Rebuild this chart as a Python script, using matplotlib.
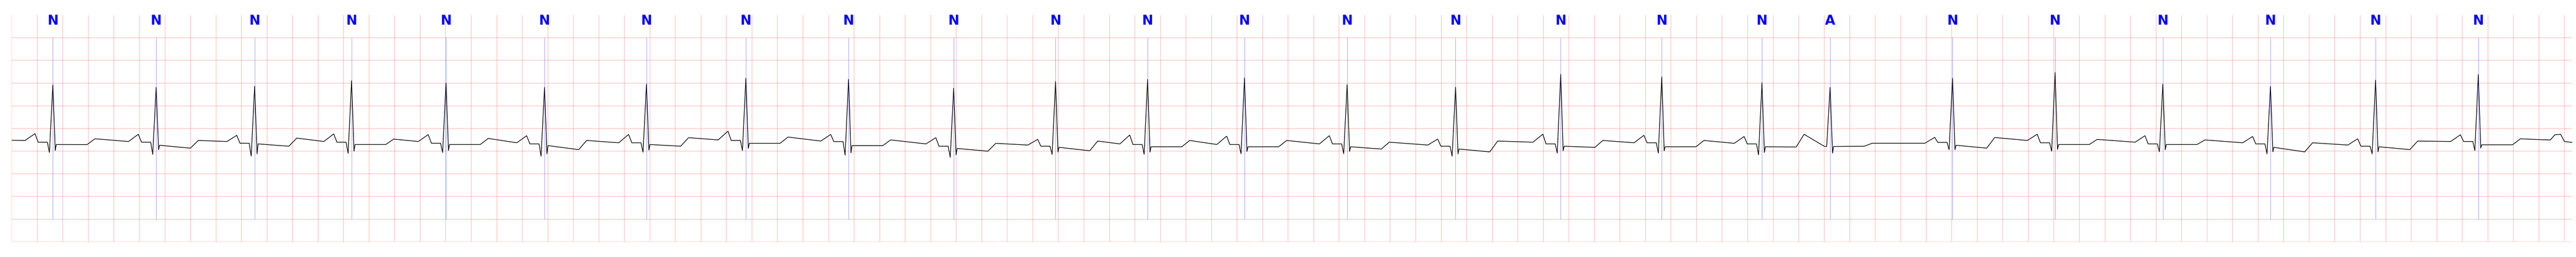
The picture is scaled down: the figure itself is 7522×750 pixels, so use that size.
import numpy as np
import matplotlib
matplotlib.use('Agg')
import matplotlib.pyplot as plt

# beat table: R time (s) and levels (mV) of each wave
beat_t = [0.322, 1.1315, 1.9031, 2.6625, 3.4027, 4.1742, 4.9729, 5.7518, 6.5562, 7.3799,
          8.1781, 8.8991, 9.6584, 10.4626, 11.3121, 12.1358, 12.9276, 13.7127, 14.2466,
          15.2058, 16.0094, 16.8535, 17.6966, 18.5203, 19.325]
labels = ['N'] * 18 + ['A'] + ['N'] * 6
nan = np.nan
pre = [-0.265, -0.288, -0.288, -0.288, -0.288, -0.316, -0.316, -0.253, -0.278, -0.341,
       -0.366, -0.341, -0.354, -0.341, -0.366, -0.303, -0.316, -0.328, nan, -0.326,
       -0.265, -0.303, -0.316, -0.366, -0.288]
p_top = [-0.114, -0.129, -0.152, -0.120, -0.135, -0.160, -0.132, -0.059, -0.132, -0.203,
         -0.241, -0.145, -0.170, -0.160, -0.235, -0.127, -0.152, -0.177, nan, -0.197,
         -0.127, -0.160, -0.177, -0.228, -0.140]
pr = [-0.303, -0.303, -0.326, -0.303, -0.326, -0.341, -0.316, -0.265, -0.290, -0.392,
      -0.392, -0.354, -0.354, -0.341, -0.392, -0.341, -0.316, -0.341, -0.398, -0.308,
      -0.316, -0.341, -0.341, -0.392, -0.288]
q = [-0.530, -0.571, -0.611, -0.550, -0.530, -0.613, -0.525, -0.487, -0.588, -0.636,
     -0.573, -0.568, -0.558, -0.558, -0.611, -0.543, -0.543, -0.581, -0.398, -0.469,
     -0.502, -0.515, -0.560, -0.560, -0.486]
r = [0.961, 0.906, 0.931, 1.052, 1.002, 0.906, 0.976, 1.108, 1.082, 0.888,
     1.037, 1.082, 1.115, 0.964, 0.911, 1.195, 1.140, 1.009, 0.906, 1.108,
     1.233, 0.976, 0.926, 1.067, 1.190]
s = [-0.485, -0.469, -0.560, -0.500, -0.485, -0.560, -0.477, -0.439, -0.538, -0.583,
     -0.522, -0.522, -0.507, -0.507, -0.560, -0.492, -0.492, -0.530, -0.543, -0.469,
     -0.462, -0.469, -0.515, -0.515, -0.432]
st = [-0.354, -0.371, -0.341, -0.354, -0.354, -0.379, -0.354, -0.328, -0.379, -0.441,
      -0.417, -0.404, -0.404, -0.404, -0.454, -0.392, -0.404, -0.404, -0.398, -0.371,
      -0.354, -0.354, -0.417, -0.404, -0.360]
st_end = [-0.356, -0.435, -0.392, -0.354, -0.354, -0.467, -0.392, -0.328, -0.379, -0.502,
          -0.492, -0.404, -0.404, -0.454, -0.517, -0.417, -0.404, -0.409, -0.392, -0.435,
          -0.354, -0.354, -0.517, -0.467, -0.360]
t_top = [-0.228, -0.265, -0.213, -0.235, -0.220, -0.265, -0.203, -0.190, -0.253, -0.328,
         -0.278, -0.265, -0.265, -0.303, -0.278, -0.265, -0.265, -0.129, -0.326, -0.200,
         -0.241, -0.253, -0.316, -0.278, -0.228]
# start of strip and the P wave of the beat cut off at the right edge
lead_t, lead_v = [0.0], [-0.260]
tail_t = [19.790, 19.890, 19.924, 19.970, 20.000, 20.061]
tail_v = [-0.245, -0.253, -0.140, -0.129, -0.288, -0.308]

# wave timing relative to R (s)
off_p = [-0.217, -0.140, -0.115]
off_qrs = [-0.043, -0.027, 0.0, 0.019, 0.027, 0.268, 0.330]

xs, ys = list(lead_t), list(lead_v)
for i, R in enumerate(beat_t):
    if not np.isnan(p_top[i]):
        xs += [R + o for o in off_p]
        ys += [pre[i], p_top[i], pr[i]]
    xs += [R + o for o in off_qrs]
    ys += [pr[i], q[i], r[i], s[i], st[i], st_end[i], t_top[i]]
xs += tail_t
ys += tail_v

fig = plt.figure(figsize=(75.22, 7.5), dpi=100)
ax = fig.add_axes([0.00456, 0.05907, 0.99398, 0.88227])
ax.set_xlim(0, 20.061)
ax.set_ylim(-2.5, 2.5)
ax.set_xticks(np.arange(0, 20.061, 0.2))
ax.set_yticks(np.arange(-2.5, 2.5, 0.5))
ax.grid(True, color='red', alpha=0.28, lw=1.1)
ax.tick_params(length=0, labelbottom=False, labelleft=False)
for sp in ax.spines.values():
    sp.set_visible(False)

ax.plot(xs, ys, color='black', lw=1.4, zorder=3)
ax.vlines(beat_t, -2.0, 2.0, color='blue', alpha=0.5, lw=0.75, zorder=4)
for x, lab in zip(beat_t, labels):
    ax.text(x, 2.289, lab, color='blue', fontweight='bold', fontsize=28,
            ha='center', va='baseline', family=['Liberation Sans Narrow', 'DejaVu Sans'])

fig.savefig('out.png', dpi=100)
